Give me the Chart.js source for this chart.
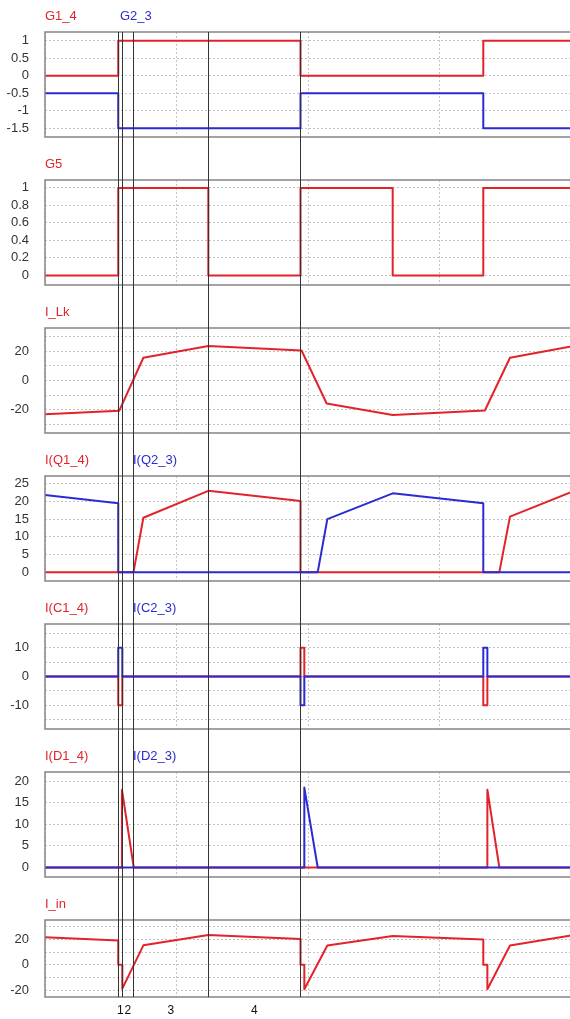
<!DOCTYPE html>
<html>
<head>
<meta charset="utf-8">
<script src="https://cdn.jsdelivr.net/npm/chart.js@4"></script>
<style>
  html, body { margin: 0; padding: 0; background: #fff; overflow: hidden; }
  #wrap { position: relative; width: 572px; height: 1019px; }
  #wrap canvas { position: absolute; left: 0; }
</style>
</head>
<body>
<div id="wrap"></div>
<script>
// time axis runs 0..4 (one dotted grid division per unit)
const cursors = [0.557, 0.588, 0.673, 1.242, 1.94];
const regionLabels = ['1', '2', '3', '4'];

const g14T = [0, 0.557, 0.557, 1.943, 1.943, 3.333, 3.333, 4];
const g14V = [0, 0, 1, 1, 0, 0, 1, 1];
const g23T = [0, 0.557, 0.557, 1.943, 1.943, 3.333, 3.333, 4];
const g23V = [-0.5, -0.5, -1.5, -1.5, -0.5, -0.5, -1.5, -1.5];

const g5T = [0, 0.557, 0.557, 1.242, 1.242, 1.943, 1.943, 2.644, 2.644, 3.333, 3.333, 4];
const g5V = [0, 0, 1, 1, 0, 0, 1, 1, 0, 0, 1, 1];

const lkT = [0, 0.565, 0.748, 1.242, 1.951, 2.142, 2.644, 3.345, 3.536, 4];
const lkV = [-23.1, -20.7, 15.6, 23.6, 20.6, -15.8, -23.6, -20.6, 15.6, 23.4];

const q14T = [0, 0.673, 0.748, 1.242, 1.943, 1.943, 3.455, 3.536, 4];
const q14V = [0, 0, 15.4, 23.0, 20.1, 0, 0, 15.7, 22.6];
const q23T = [0, 0.557, 0.557, 2.074, 2.147, 2.644, 3.333, 3.333, 4];
const q23V = [21.8, 19.5, 0, 0, 15.0, 22.3, 19.5, 0, 0];

const c14T = [0, 0.557, 0.557, 0.588, 0.588, 1.943, 1.943, 1.972, 1.972, 3.333, 3.333, 3.364, 3.364, 4];
const c14V = [0, 0, -10, -10, 0, 0, 10, 10, 0, 0, -10, -10, 0, 0];
const c23T = [0, 0.557, 0.557, 0.588, 0.588, 1.943, 1.943, 1.972, 1.972, 3.333, 3.333, 3.364, 3.364, 4];
const c23V = [0, 0, 10, 10, 0, 0, -10, -10, 0, 0, 10, 10, 0, 0];

const d14T = [0, 0.585, 0.585, 0.675, 3.364, 3.364, 3.455, 4];
const d14V = [0, 0, 18, 0, 0, 18, 0, 0];
const d23T = [0, 1.972, 1.972, 2.074, 4];
const d23V = [0, 0, 18.5, 0, 0];

const inT = [0, 0.557, 0.557, 0.588, 0.588, 0.748, 1.242, 1.943, 1.943, 1.972, 1.972, 2.147, 2.644, 3.333, 3.333, 3.364, 3.364, 3.536, 4];
const inV = [21.8, 19.2, 0, 0, -18.8, 15.4, 23.5, 20.3, 0, 0, -19.3, 15.2, 22.8, 20, 0, 0, -19.3, 15.2, 23.2];

const g1Ticks = [1, 0.5, 0, -0.5, -1, -1.5];
const g5Ticks = [1, 0.8, 0.6, 0.4, 0.2, 0];
const lkTicks = [20, 0, -20];
const qTicks = [25, 20, 15, 10, 5, 0];
const cTicks = [10, 0, -10];
const dTicks = [20, 15, 10, 5, 0];
const inTicks = [20, 0, -20];

const RED = '#e2232b', BLUE = '#2b2bd4';
const FONT = "'Liberation Sans', Arial, sans-serif";

const panels = [
  { titles: [['G1_4', RED, 45], ['G2_3', BLUE, 120]], min: -1.75, max: 1.25, step: 0.5, labels: g1Ticks,
    series: [[g23T, g23V, BLUE], [g14T, g14V, RED]] },
  { titles: [['G5', RED, 45]], min: -0.11, max: 1.09, step: 0.2, labels: g5Ticks,
    series: [[g5T, g5V, RED]] },
  { titles: [['I_Lk', RED, 45]], min: -36, max: 36, step: 10, labels: lkTicks,
    series: [[lkT, lkV, RED]] },
  { titles: [['I(Q1_4)', RED, 45], ['I(Q2_3)', BLUE, 133]], min: -2.5, max: 27.2, step: 5, labels: qTicks,
    series: [[q23T, q23V, BLUE], [q14T, q14V, RED]] },
  { titles: [['I(C1_4)', RED, 45], ['I(C2_3)', BLUE, 133]], min: -18.2, max: 18.2, step: 5, labels: cTicks,
    series: [[c23T, c23V, BLUE], [c14T, c14V, RED]] },
  { titles: [['I(D1_4)', RED, 45], ['I(D2_3)', BLUE, 133]], min: -2.2, max: 22.1, step: 5, labels: dTicks,
    series: [[d23T, d23V, BLUE], [d14T, d14V, RED]] },
  { titles: [['I_in', RED, 45]], min: -25.4, max: 35.4, step: 10, labels: inTicks,
    series: [[inT, inV, RED]] }
];

const overlay = {
  id: 'overlay',
  afterDatasetsDraw(chart, args, opts) {
    const ctx = chart.ctx, a = chart.chartArea, x = chart.scales.x;
    ctx.save();
    ctx.strokeStyle = '#858585';
    ctx.lineWidth = 1.5;
    ctx.strokeRect(a.left, a.top, a.right - a.left, a.bottom - a.top);
    ctx.strokeStyle = '#333';
    ctx.lineWidth = 1;
    const y0 = opts.first ? a.top : 0;
    const y1 = opts.last ? a.bottom : chart.height;
    cursors.forEach(v => {
      const px = Math.round(x.getPixelForValue(v)) + 0.5;
      ctx.beginPath(); ctx.moveTo(px, y0); ctx.lineTo(px, y1); ctx.stroke();
    });
    ctx.font = '13px ' + FONT;
    ctx.textBaseline = 'alphabetic';
    opts.titles.forEach(([t, c, px]) => {
      ctx.fillStyle = c;
      ctx.fillText(t, px, a.top - 12.5);
    });
    ctx.restore();
  }
};

const wrap = document.getElementById('wrap');
panels.forEach((p, i) => {
  const last = i === panels.length - 1;
  const cv = document.createElement('canvas');
  cv.width = 572;
  cv.height = last ? 131 : 148;
  cv.style.top = (i * 148) + 'px';
  wrap.appendChild(cv);

  const scales = {
    x: {
      type: 'linear', min: 0, max: 4,
      ticks: { display: false, stepSize: 1 },
      grid: { color: '#c4c4c4', drawTicks: false },
      border: { display: false, dash: [2, 2] },
      afterFit: s => { s.height = 0; s.paddingLeft = 0; s.paddingRight = 0; }
    },
    y: {
      min: p.min, max: p.max,
      afterBuildTicks: s => {
        const out = [];
        for (let k = Math.ceil(p.min / p.step - 1e-9); k * p.step <= p.max + 1e-9; k++) {
          out.push({ value: +(k * p.step).toFixed(6) });
        }
        s.ticks = out;
      },
      afterFit: s => { s.width = 45; s.paddingTop = 0; s.paddingBottom = 0; },
      ticks: {
        autoSkip: false, padding: 16, color: '#333', font: { family: FONT, size: 13 },
        callback: v => p.labels.some(l => Math.abs(l - v) < 1e-6) ? String(v) : ''
      },
      grid: { color: '#c4c4c4', drawTicks: false },
      border: { display: false, dash: [2, 2] }
    }
  };
  if (last) {
    scales.x2 = {
      type: 'linear', position: 'bottom', min: 0, max: 4,
      afterBuildTicks: s => {
        s.ticks = regionLabels.map((_, k) => ({ value: (cursors[k] + cursors[k + 1]) / 2 }));
      },
      ticks: {
        autoSkip: false, maxRotation: 0, padding: 6, color: '#111',
        font: { family: FONT, size: 12 },
        callback: (v, k) => regionLabels[k]
      },
      grid: { display: false, drawTicks: false },
      border: { display: false },
      afterFit: s => { s.height = 22; s.paddingLeft = 0; s.paddingRight = 0; }
    };
  }

  new Chart(cv, {
    type: 'line',
    data: {
      datasets: p.series.map(([t, v, c]) => ({
        data: t.map((tt, k) => ({ x: tt, y: v[k] })),
        borderColor: c,
        borderWidth: 2,
        pointRadius: 0,
        tension: 0,
        fill: false,
        borderJoinStyle: 'round',
        borderCapStyle: 'round'
      }))
    },
    options: {
      responsive: false,
      animation: false,
      events: [],
      layout: { padding: { left: 0, right: 1, top: 32, bottom: last ? 0 : 11 } },
      scales: scales,
      plugins: {
        legend: { display: false },
        tooltip: { enabled: false },
        overlay: { first: i === 0, last: last, titles: p.titles }
      }
    },
    plugins: [overlay]
  });
});
</script>
</body>
</html>
